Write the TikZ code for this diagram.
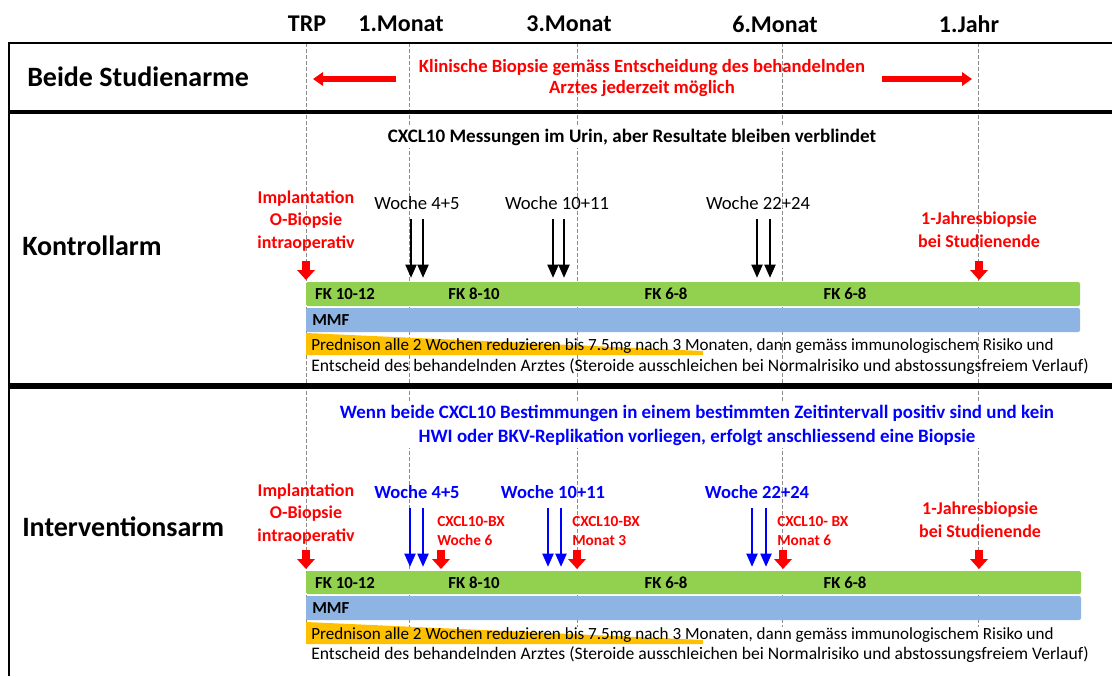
\documentclass[tikz,border=0pt]{standalone}
\usepackage{fontspec}
\setmainfont{Carlito}
\usetikzlibrary{arrows.meta}
\definecolor{fkgreen}{HTML}{92D050}
\definecolor{mmfblue}{HTML}{8DB4E2}
\definecolor{predorange}{HTML}{FFC000}
\definecolor{gridgray}{gray}{0.55}

\begin{document}
\begin{tikzpicture}[x=0.75pt,y=-0.75pt,>=Latex,
head/.style={font=\fontsize{18}{22}\selectfont\bfseries,inner sep=0pt},
arm/.style={font=\fontsize{21}{24}\selectfont\bfseries,anchor=west,inner sep=0pt},
note/.style={font=\fontsize{14.3}{18}\selectfont\bfseries,align=center,inner sep=2pt},
redlbl/.style={text=red,font=\fontsize{13.5}{16.9}\selectfont\bfseries,align=center,inner sep=0pt},
bxlbl/.style={text=red,font=\fontsize{11.5}{14.3}\selectfont\bfseries,align=left,anchor=west,inner sep=0pt},
woche/.style={font=\fontsize{14}{16}\selectfont,inner sep=0pt},
barlbl/.style={font=\fontsize{12.8}{15}\selectfont,inner sep=0pt,anchor=west},
entlbl/.style={font=\fontsize{13.2}{15}\selectfont,inner sep=0pt,anchor=west},
fklbl/.style={font=\fontsize{12.6}{15}\selectfont\bfseries,inner sep=0pt},
grid/.style={gridgray,dash pattern=on 3pt off 1.5pt,line width=0.75pt},
marr/.style={-{Triangle[width=8pt,length=10pt]},line width=2.1pt},
biopsy/.style={red,-{Triangle[width=13pt,length=7.5pt]},line width=6pt},
wide/.style={red,-{Triangle[width=10pt,length=7.5pt]},line width=5pt}]
\useasboundingbox (0,0) rectangle (1112,676);
% time grid
\foreach \x in {306,409,577,782,978} \draw[grid] (\x,43) -- (\x,627);
% frame
\draw[line width=1.5pt] (1112,43) -- (9,43) -- (9,676);
\draw[line width=3.5pt] (9,112) -- (1112,112);
\draw[line width=4pt] (9,386) -- (1112,386);
% header
\node[head] (trp) at (307,24) {TRP};
\node[head] (m1) at (401,24) {1.Monat};
\node[head] (m3) at (569,24) {3.Monat};
\node[head] (m6) at (775,24) {6.Monat};
\node[head] (y1) at (969,24) {1.Jahr};
% beide studienarme
\node[arm] (beide) at (27,77) {Beide Studienarme};
\node[note,text=red,font=\fontsize{14}{15.75}\selectfont\bfseries] (klin) at (642,78)
  {Klinische Biopsie gemäss Entscheidung des behandelnden\\Arztes jederzeit möglich};
\coordinate (kla) at (396,79); \coordinate (klb) at (313,79);
\coordinate (kra) at (882,79); \coordinate (krb) at (972,79);
\draw[wide] (kla) -- (klb);
\draw[wide] (kra) -- (krb);
% kontrollarm
\node[arm] (kontroll) at (22,246) {Kontrollarm};
\node[note,fill=white] (urin) at (632,137) {CXCL10 Messungen im Urin, aber Resultate bleiben verblindet};
\node[redlbl] (kimpl) at (306,221) {Implantation\\O-Biopsie\\intraoperativ};
\node[redlbl,font=\fontsize{13.5}{17.5}\selectfont\bfseries] (kjahr) at (979,230) {1-Jahresbiopsie\\bei Studienende};
\node[woche] (kw1) at (417,203) {Woche 4+5};
\node[woche] (kw2) at (557,203) {Woche 10+11};
\node[woche] (kw3) at (758,203) {Woche 22+24};
\foreach \x in {411,423,553,564,757,770} {
  \coordinate (kt\x) at (\x,219); \coordinate (kb\x) at (\x,278);
  \draw[marr] (kt\x) -- (kb\x);}
\foreach \x in {306,979} {
  \coordinate (kbt\x) at (\x,261); \coordinate (kbb\x) at (\x,280);
  \draw[biopsy] (kbt\x) -- (kbb\x);}
\fill[fkgreen,rounded corners=1.5pt] (306,282) rectangle (1080,306);
\fill[mmfblue,rounded corners=1.5pt] (306,308) rectangle (1080,332);
\fill[predorange] (306,333) -- (703,351) -- (703,355) -- (306,355) -- cycle;
\node[fklbl] (kfk1) at (345,294) {FK 10-12};
\node[fklbl] (kfk2) at (474,294) {FK 8-10};
\node[fklbl] (kfk3) at (666,294) {FK 6-8};
\node[fklbl] (kfk4) at (845,294) {FK 6-8};
\node[fklbl,anchor=west] (kmmf) at (312,320) {MMF};
\node[barlbl] (kpred) at (311,346) {Prednison alle 2 Wochen reduzieren bis 7.5mg nach 3 Monaten, dann gemäss immunologischem Risiko und};
\node[entlbl] (kents) at (311,367) {Entscheid des behandelnden Arztes (Steroide ausschleichen bei Normalrisiko und abstossungsfreiem Verlauf)};
% interventionsarm
\node[arm] (interv) at (22,527) {Interventionsarm};
\node[note,fill=white,text=blue,font=\fontsize{14.2}{18}\selectfont\bfseries] (wenn) at (697,425)
  {Wenn beide CXCL10 Bestimmungen in einem bestimmten Zeitintervall positiv sind und kein\\HWI oder BKV-Replikation vorliegen, erfolgt anschliessend eine Biopsie};
\node[redlbl] (iimpl) at (306,514) {Implantation\\O-Biopsie\\intraoperativ};
\node[redlbl,font=\fontsize{13.5}{17.3}\selectfont\bfseries] (ijahr) at (980,520) {1-Jahresbiopsie\\bei Studienende};
\node[woche,text=blue,font=\fontsize{13.9}{16}\selectfont\bfseries] (iw1) at (417,492) {Woche 4+5};
\node[woche,text=blue,font=\fontsize{13.9}{16}\selectfont\bfseries] (iw2) at (553,492) {Woche 10+11};
\node[woche,text=blue,font=\fontsize{13.9}{16}\selectfont\bfseries] (iw3) at (757,492) {Woche 22+24};
\node[bxlbl] (bx1) at (437,531) {CXCL10-BX\\Woche 6};
\node[bxlbl] (bx2) at (572,531) {CXCL10-BX\\Monat 3};
\node[bxlbl] (bx3) at (777,531) {CXCL10- BX\\Monat 6};
\foreach \x in {410,423,548,561,752,766} {
  \coordinate (it\x) at (\x,508); \coordinate (ib\x) at (\x,567);
  \draw[marr,blue] (it\x) -- (ib\x);}
\foreach \x in {306,441,577,783,979} {
  \coordinate (ibt\x) at (\x,550); \coordinate (ibb\x) at (\x,569);
  \draw[biopsy] (ibt\x) -- (ibb\x);}
\fill[fkgreen,rounded corners=1.5pt] (306,571) rectangle (1081,594);
\fill[mmfblue,rounded corners=1.5pt] (306,596) rectangle (1081,620);
\fill[predorange] (306,622) -- (703,640) -- (703,644) -- (306,644) -- cycle;
\node[fklbl] (ifk1) at (345,583) {FK 10-12};
\node[fklbl] (ifk2) at (474,583) {FK 8-10};
\node[fklbl] (ifk3) at (666,583) {FK 6-8};
\node[fklbl] (ifk4) at (845,583) {FK 6-8};
\node[fklbl,anchor=west] (immf) at (312,608) {MMF};
\node[barlbl] (ipred) at (311,635) {Prednison alle 2 Wochen reduzieren bis 7.5mg nach 3 Monaten, dann gemäss immunologischem Risiko und};
\node[entlbl] (ients) at (311,655) {Entscheid des behandelnden Arztes (Steroide ausschleichen bei Normalrisiko und abstossungsfreiem Verlauf)};
\end{tikzpicture}
\end{document}
